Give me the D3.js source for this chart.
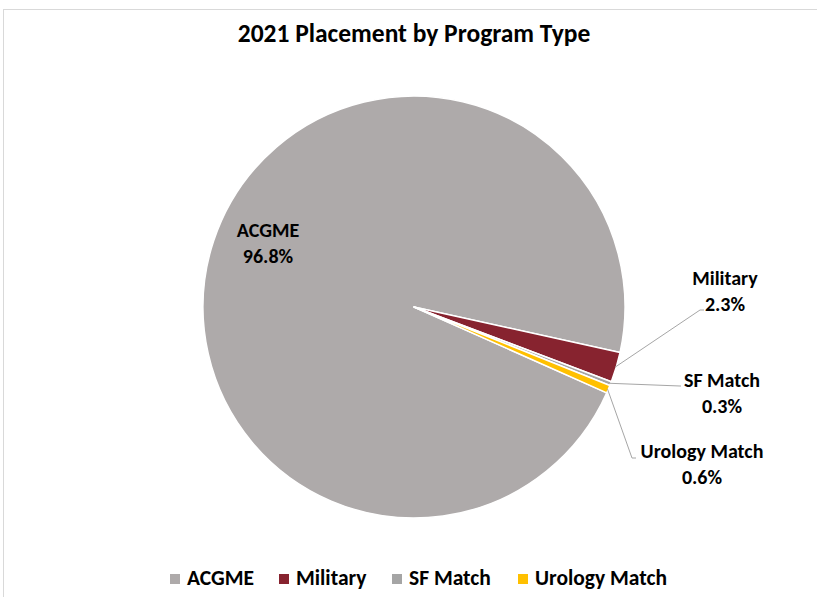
<!DOCTYPE html>
<html>
<head>
<meta charset="utf-8">
<script src="https://cdn.jsdelivr.net/npm/d3@7"></script>
<style>
  body { margin: 0; background: #fff; }
  text { font-family: Carlito, Lato, "Open Sans", sans-serif; font-weight: bold; fill: #000; }
</style>
</head>
<body>
<svg id="chart" width="817" height="597"></svg>
<script>
// data
const title = "2021 Placement by Program Type"
const categories = ["ACGME", "Military", "SF Match", "Urology Match"]
const values = [96.8, 2.3, 0.3, 0.6]

// style
const colors = ["#aeaaaa", "#87232f", "#a5a5a5", "#ffc000"]
const cx = 414, cy = 307, radius = 211
const first_angle = 114  // degrees, clockwise from 12 o'clock (excel "angle of first slice")

// label boxes: x centre, first baseline, leader elbow + end (null for inside label)
const label_layout = [
  { x: 268, y: 237, leader: null },
  { x: 725, y: 285, leader: [[700, 310], [704, 310]] },
  { x: 722, y: 387, leader: [[680, 386], [681, 386]] },
  { x: 702, y: 458, leader: [[632, 458], [636, 458]] }
]

const svg = d3.select('#chart')

// chart border
svg.append('rect')
  .attr('x', 3.5).attr('y', 9.5)
  .attr('width', 830).attr('height', 600)
  .attr('fill', 'none')
  .attr('stroke', '#d9d9d9')
  .attr('stroke-width', 1)

svg.append('text')
  .attr('x', cx).attr('y', 42)
  .attr('text-anchor', 'middle')
  .style('font-size', '25.5px')
  .text(title)

let rows = categories.map((c, i) => ({ name: c, value: values[i], color: colors[i] }))

let start = first_angle * Math.PI / 180
let pie = d3.pie().value(d => d.value).sort(null)
  .startAngle(start).endAngle(start + 2 * Math.PI)
let arcs = pie(rows)
let arc = d3.arc().innerRadius(0).outerRadius(radius)

let g = svg.append('g').attr('transform', `translate(${cx},${cy})`)
g.selectAll('path.slice').data(arcs).enter()
  .append('path')
  .attr('class', 'slice')
  .attr('d', arc)
  .attr('fill', d => d.data.color)
  .attr('stroke', '#fff')
  .attr('stroke-width', 1.5)
  .attr('stroke-linejoin', 'round')

// leader lines
arcs.forEach((a, i) => {
  let lay = label_layout[i]
  if (!lay.leader) return
  let mid = (a.startAngle + a.endAngle) / 2
  let p0 = [cx + Math.sin(mid) * (radius - 1), cy - Math.cos(mid) * (radius - 1)]
  let pts = [p0].concat(lay.leader)
  svg.append('path')
    .attr('d', d3.line()(pts))
    .attr('fill', 'none')
    .attr('stroke', '#a6a6a6')
    .attr('stroke-width', 1)
})

// data labels
arcs.forEach((a, i) => {
  let lay = label_layout[i]
  let t = svg.append('text')
    .attr('text-anchor', 'middle')
    .style('font-size', '20px')
  t.append('tspan').attr('x', lay.x).attr('y', lay.y).text(a.data.name)
  t.append('tspan').attr('x', lay.x).attr('y', lay.y + 25.5).text(d3.format('.1f')(a.data.value) + '%')
})

// legend
const legend_x = [170, 279, 392, 518]
let leg = svg.selectAll('g.legend').data(rows).enter()
  .append('g').attr('class', 'legend')
  .attr('transform', (d, i) => `translate(${legend_x[i]},574)`)
leg.append('rect').attr('width', 10).attr('height', 10).attr('fill', d => d.color)
leg.append('text').attr('x', 17).attr('y', 11).style('font-size', '21.5px').text(d => d.name)
</script>
</body>
</html>
